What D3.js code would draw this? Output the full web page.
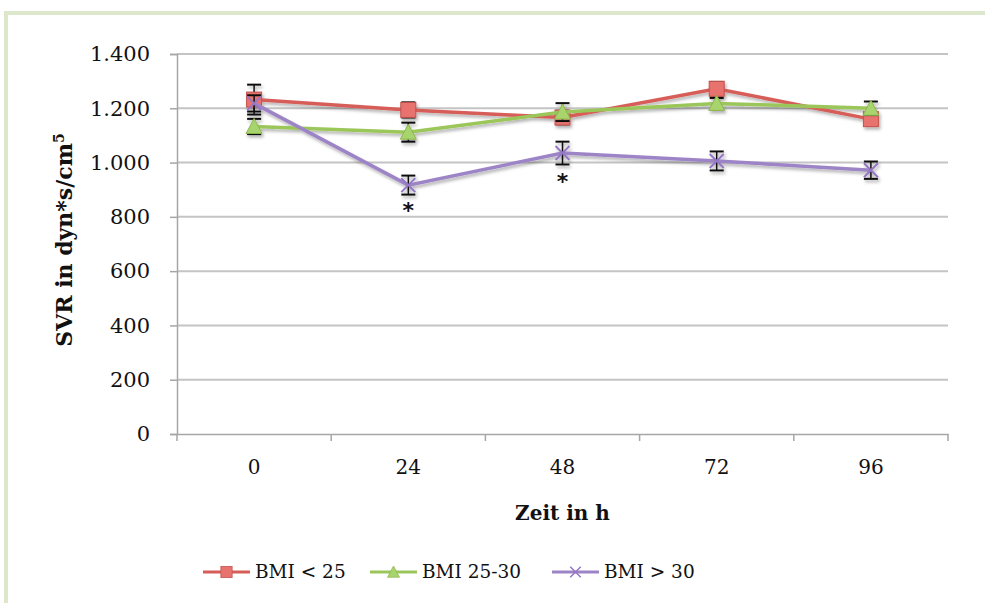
<!DOCTYPE html>
<html>
<head>
<meta charset="utf-8">
<script src="https://cdn.jsdelivr.net/npm/d3@7"></script>
<style>
  body { margin: 0; background: #ffffff; }
  svg { display: block; }
</style>
</head>
<body>
<div id="chart"></div>
<script>
// Chart values
const hours = ["0", "24", "48", "72", "96"];
const yTicks = [0, 200, 400, 600, 800, 1000, 1200, 1400];
const seriesNames = ["BMI < 25", "BMI 25-30", "BMI > 30"];
const bmiLow = [1232, 1194, 1166, 1272, 1160];
const errLow = [55, 28, 25, 25, 20];
const bmiMid = [1133, 1112, 1186, 1218, 1200];
const errMid = [28, 35, 33, 20, 25];
const bmiHigh = [1218, 917, 1035, 1006, 972];
const errHigh = [30, 35, 42, 35, 32];
// significance markers (hour, value where the asterisk sits)
const sigHours = ["24", "48"];
const sigValues = [830, 937];

const width = 985, height = 603;
const margin = { left: 177, right: 37, top: 54, bottom: 169 };

const svg = d3.select("#chart").append("svg")
    .attr("width", width)
    .attr("height", height);

// soft shadow like the office chart
const defs = svg.append("defs");
const shadow = defs.append("filter").attr("id", "shadow")
    .attr("x", "-20%").attr("y", "-20%").attr("width", "140%").attr("height", "140%");
shadow.append("feDropShadow")
    .attr("dx", 1.5).attr("dy", 2.5).attr("stdDeviation", 1.6)
    .attr("flood-color", "#000").attr("flood-opacity", 0.3);

// green frame
svg.append("path")
    .attr("d", `M6,${height} L6,13 L${width},13`)
    .attr("fill", "none")
    .attr("stroke", "#dce7cb")
    .attr("stroke-width", 4);

const x = d3.scaleBand()
    .domain(hours)
    .range([margin.left, width - margin.right])
    .paddingInner(0).paddingOuter(0);

const y = d3.scaleLinear()
    .domain([0, 1400])
    .range([height - margin.bottom, margin.top]);

const cx = h => x(h) + x.bandwidth() / 2;

// gridlines
svg.append("g")
    .selectAll("line")
    .data(yTicks.filter(d => d > 0))
    .join("line")
    .attr("x1", margin.left)
    .attr("x2", width - margin.right)
    .attr("y1", d => y(d))
    .attr("y2", d => y(d))
    .attr("stroke", "#c4c4c4")
    .attr("stroke-width", 2);

// y axis
const yAxis = svg.append("g")
    .attr("transform", `translate(${margin.left},0)`)
    .call(d3.axisLeft(y)
        .tickValues(yTicks)
        .tickSize(7)
        .tickPadding(20)
        .tickFormat(d => d3.format(",")(d).replace(/,/g, ".")));
yAxis.select(".domain").attr("stroke", "#a6a6a6").attr("stroke-width", 1.5);
yAxis.selectAll(".tick line").attr("stroke", "#a6a6a6").attr("stroke-width", 1.5);
yAxis.selectAll("text")
    .attr("font-family", "'DejaVu Serif', serif")
    .attr("font-size", 21)
    .attr("fill", "#111");

// x axis
const xAxis = svg.append("g")
    .attr("transform", `translate(0,${y(0)})`)
    .call(d3.axisBottom(x).tickSize(0).tickPadding(26));
xAxis.select(".domain").attr("stroke", "#a6a6a6").attr("stroke-width", 1.5);
xAxis.selectAll("text")
    .attr("font-family", "'DejaVu Serif', serif")
    .attr("font-size", 20)
    .attr("fill", "#111");
// tick marks sit on the band edges
const edges = hours.map(h => x(h)).concat([x(hours[hours.length - 1]) + x.bandwidth()]);
xAxis.selectAll("line.edge")
    .data(edges)
    .join("line")
    .attr("class", "edge")
    .attr("x1", d => d).attr("x2", d => d)
    .attr("y1", 0).attr("y2", 7)
    .attr("stroke", "#a6a6a6")
    .attr("stroke-width", 1.5);

// axis titles
svg.append("text")
    .attr("x", (margin.left + width - margin.right) / 2)
    .attr("y", 520)
    .attr("text-anchor", "middle")
    .attr("font-family", "'DejaVu Serif', serif")
    .attr("font-weight", "bold")
    .attr("font-size", 20)
    .attr("fill", "#111")
    .text("Zeit in h");

const yTitle = svg.append("text")
    .attr("transform", "translate(72,240) rotate(-90)")
    .attr("text-anchor", "middle")
    .attr("font-family", "'DejaVu Serif', serif")
    .attr("font-weight", "bold")
    .attr("font-size", 22)
    .attr("fill", "#111");
yTitle.append("tspan").text("SVR in dyn*s/cm");
yTitle.append("tspan").attr("baseline-shift", "super").attr("font-size", 14).text("5");

// series
const series = [
    { name: seriesNames[0], values: bmiLow, errs: errLow, line: "#d65d58", fill: "#e8736e", stroke: "#c0504d", marker: "square" },
    { name: seriesNames[1], values: bmiMid, errs: errMid, line: "#9bc65a", fill: "#a8d46d", stroke: "#8db54f", marker: "triangle" },
    { name: seriesNames[2], values: bmiHigh, errs: errHigh, line: "#9d84c6", fill: "none", stroke: "#9477c2", marker: "cross" }
];

const line = d3.line()
    .x((d, i) => cx(hours[i]))
    .y(d => y(d));

function drawMarker(g, type, s) {
    if (type === "square") {
        g.append("rect")
            .attr("x", -7.5).attr("y", -7.5).attr("width", 15).attr("height", 15)
            .attr("fill", s.fill).attr("stroke", s.stroke).attr("stroke-width", 1);
    } else if (type === "triangle") {
        g.append("path")
            .attr("d", "M0,-8 L8,7 L-8,7 Z")
            .attr("fill", s.fill).attr("stroke", s.stroke).attr("stroke-width", 1);
    } else {
        g.append("path")
            .attr("d", "M-7,-7 L7,7 M-7,7 L7,-7")
            .attr("stroke", s.stroke).attr("stroke-width", 2);
    }
}

const seriesG = svg.append("g").attr("filter", "url(#shadow)");

series.forEach(s => {
    const g = seriesG.append("g");
    g.append("path")
        .datum(s.values)
        .attr("d", line)
        .attr("fill", "none")
        .attr("stroke", s.line)
        .attr("stroke-width", 3.5);

    // error bars
    const eb = g.selectAll("g.err")
        .data(s.values)
        .join("g")
        .attr("class", "err")
        .attr("transform", (d, i) => `translate(${cx(hours[i])},0)`);
    eb.append("line")
        .attr("y1", (d, i) => y(d + s.errs[i]))
        .attr("y2", (d, i) => y(d - s.errs[i]))
        .attr("stroke", "#111").attr("stroke-width", 1.5);
    eb.append("line")
        .attr("x1", -7).attr("x2", 7)
        .attr("y1", (d, i) => y(d + s.errs[i]))
        .attr("y2", (d, i) => y(d + s.errs[i]))
        .attr("stroke", "#111").attr("stroke-width", 2);
    eb.append("line")
        .attr("x1", -7).attr("x2", 7)
        .attr("y1", (d, i) => y(d - s.errs[i]))
        .attr("y2", (d, i) => y(d - s.errs[i]))
        .attr("stroke", "#111").attr("stroke-width", 2);

    g.selectAll("g.mk")
        .data(s.values)
        .join("g")
        .attr("class", "mk")
        .attr("transform", (d, i) => `translate(${cx(hours[i])},${y(d)})`)
        .each(function () { drawMarker(d3.select(this), s.marker, s); });
});

// significance asterisks
svg.append("g")
    .selectAll("text")
    .data(sigHours)
    .join("text")
    .attr("x", d => cx(d))
    .attr("y", (d, i) => y(sigValues[i]) + 9)
    .attr("text-anchor", "middle")
    .attr("font-family", "'DejaVu Sans', sans-serif")
    .attr("font-weight", "bold")
    .attr("font-size", 22)
    .attr("fill", "#111")
    .text("*");

// legend
const legendX = [203, 370, 552];
const legend = svg.append("g").attr("transform", "translate(0,572)");
series.forEach((s, i) => {
    const g = legend.append("g").attr("transform", `translate(${legendX[i]},0)`);
    g.append("line")
        .attr("x1", 0).attr("x2", 47)
        .attr("stroke", s.line).attr("stroke-width", 3);
    const m = g.append("g").attr("transform", "translate(23.5,0) scale(0.75)");
    drawMarker(m, s.marker, s);
    g.append("text")
        .attr("x", 52)
        .attr("dy", "0.35em")
        .attr("font-family", "'DejaVu Serif', serif")
        .attr("font-size", 18.5)
        .attr("fill", "#111")
        .text(s.name);
});
</script>
</body>
</html>
